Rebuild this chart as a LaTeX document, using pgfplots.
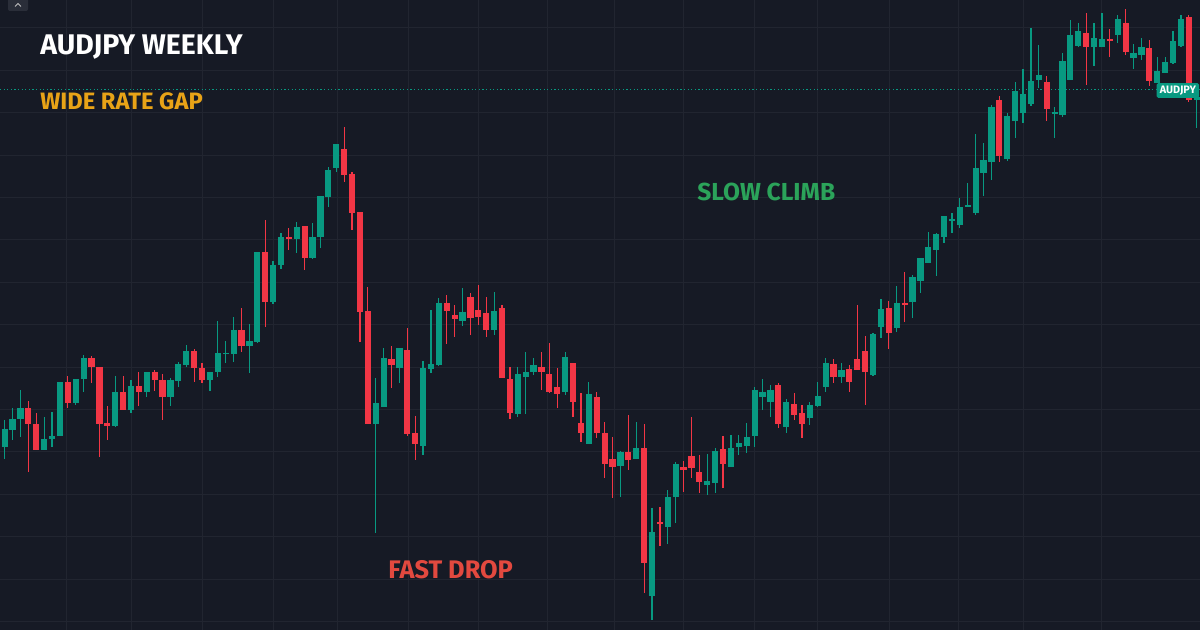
\documentclass[border=0pt]{standalone}
\usepackage{pgfplots}
\pgfplotsset{compat=1.18}
\usepackage{pgfplotstable}
\usepackage{fontspec}
\setmainfont{Fira Sans}
\definecolor{bg}{HTML}{161A25}
\definecolor{gridc}{HTML}{212530}
\definecolor{upc}{HTML}{089981}
\definecolor{dnc}{HTML}{F23645}
\definecolor{gold}{HTML}{E8A317}
\definecolor{climb}{HTML}{2BA35A}
\definecolor{drop}{HTML}{E2493F}
\definecolor{btn}{HTML}{2A2E39}
% columns: i = week index, bt/bb = body top/bottom level, wt/wb = wick top/bottom level (screen scale, 0 = top)
\pgfplotstableread{
i bt bb wt wb
1 429 447 420 459
2 419 430 408 440
3 408 419 390 437
6 439 450 417 450
7 436 439 412 447
8 382 436 382 436
10 379 403 379 405
11 358 379 355 392
15 392 426 376 427
17 386 410 380 413
19 372 392 372 397
22 380 397 378 406
23 364 381 362 387
24 351 365 345 367
27 372 380 372 391
28 353 372 321 377
29 353 354 341 363
30 330 354 317 362
32 341 346 324 373
33 252 342 252 343
35 265 302 261 304
36 237 265 233 269
38 227 239 222 253
40 237 258 223 259
41 196 237 196 248
42 170 197 167 207
43 144 168 144 172
48 403 424 378 533
49 358 407 348 407
51 348 368 348 383
54 368 446 361 455
55 364 369 310 373
56 303 365 298 366
59 312 321 288 326
63 311 330 292 335
66 374 414 367 417
67 372 377 352 414
68 365 372 358 375
72 357 392 352 395
75 394 444 382 444
79 452 466 451 497
81 448 459 422 459
83 532 596 508 620
85 497 527 490 544
86 464 497 462 523
90 481 485 454 495
91 451 483 448 493
93 448 467 435 467
94 443 447 435 455
95 437 446 423 453
96 390 436 387 447
97 392 397 379 410
98 390 402 385 417
100 402 427 399 433
103 405 418 402 425
104 396 406 382 407
105 363 387 358 392
107 370 377 363 383
111 334 375 333 376
112 309 327 299 338
114 303 328 286 332
116 277 302 275 318
117 258 281 258 293
118 247 263 232 263
119 234 250 233 276
120 216 237 216 243
121 219 221 213 233
122 207 225 198 228
123 205 207 183 207
124 168 213 134 215
125 160 173 143 196
126 107 162 105 180
128 116 159 113 161
129 91 121 82 138
130 94 113 69 123
131 81 104 28 106
132 75 80 45 88
134 112 114 107 138
135 61 115 53 117
136 35 80 20 80
137 31 46 23 47
139 38 47 23 66
140 39 47 13 47
142 19 35 15 43
144 53 58 44 69
145 47 55 38 60
147 71 83 57 83
148 62 73 57 73
149 41 63 31 64
150 19 46 15 47
152 97 100 97 128
}\upweeks
\pgfplotstableread{
i bt bb wt wb
4 408 424 401 472
5 424 450 413 450
9 382 403 376 408
12 358 367 356 383
13 367 424 367 457
14 423 426 406 440
16 392 410 376 410
18 386 392 372 406
20 372 380 370 391
21 380 397 374 420
25 351 368 349 382
26 368 380 363 383
31 330 346 308 352
34 252 302 220 327
37 237 239 228 250
39 226 258 226 270
44 149 175 127 182
45 174 213 172 230
46 212 312 212 342
47 311 424 287 424
50 359 365 346 388
52 350 434 328 436
53 433 444 416 460
57 303 311 295 344
58 315 319 305 337
60 297 318 293 335
61 310 317 285 325
62 313 330 297 337
64 308 378 305 378
65 379 413 367 419
69 367 372 352 390
70 374 392 343 393
71 387 394 368 408
73 363 402 363 417
74 423 433 393 442
76 397 433 392 438
77 433 464 422 478
78 459 467 437 498
80 452 460 415 470
82 448 563 424 593
84 522 524 507 546
87 467 470 461 492
88 456 468 417 478
89 472 482 455 493
92 449 464 436 488
99 385 424 383 428
101 404 415 393 420
102 413 424 405 438
106 364 377 359 383
108 369 382 365 392
109 359 370 305 370
110 351 372 336 405
113 308 333 301 349
115 303 305 272 322
127 100 156 96 162
133 82 109 76 121
138 33 47 13 85
141 39 41 29 57
143 23 52 9 55
146 48 81 40 86
151 17 100 15 102
}\downweeks
\newcommand{\px}[2]{({(#1)*0.5pt},{(630-(#2))*0.5pt})}
\begin{document}
\begin{tikzpicture}
\fill[bg] (0,0) rectangle (600pt,315pt);
\begin{axis}[
  at={(0,0)}, anchor=south west,
  scale only axis, width=600pt, height=315pt,
  xmin=0.4046, xmax=152.42, ymin=0, ymax=630, y dir=reverse,
  axis line style={draw=none}, tick style={draw=none},
  xticklabels={}, yticklabels={},
  xtick={8.89,17.0,26.0,35.0,43.2,52.1,61.0,69.8,78.2,87.05,96.0,104.0,113.1,121.8,130.0,140.0},
  ytick={28,70.4,112.8,155.2,197.6,240,282.4,324.8,367.2,409.6,452,494.4,536.8,579.2,621.6},
  grid=major, grid style={draw=gridc, line width=0.5pt},
  clip=true,
]
% last price line
\addplot[upc, line width=0.5pt, dash pattern=on 0.6pt off 1.2pt, forget plot] coordinates {(0.4,90) (152.5,90)};
% wicks
\addplot[draw=none, forget plot, error bars/.cd, y dir=both, y explicit, error mark=none,
  error bar style={draw=upc, solid, line width=0.6pt}]
  table[x=i, y expr={(\thisrow{wt}+\thisrow{wb})/2}, y error expr={(\thisrow{wb}-\thisrow{wt})/2}] {\upweeks};
\addplot[draw=none, forget plot, error bars/.cd, y dir=both, y explicit, error mark=none,
  error bar style={draw=dnc, solid, line width=0.6pt}]
  table[x=i, y expr={(\thisrow{wt}+\thisrow{wb})/2}, y error expr={(\thisrow{wb}-\thisrow{wt})/2}] {\downweeks};
% bodies
\addplot[draw=none, forget plot, error bars/.cd, y dir=both, y explicit, error mark=none,
  error bar style={draw=upc, solid, line width=3.1pt}]
  table[x=i, y expr={(\thisrow{bt}+\thisrow{bb})/2}, y error expr={(\thisrow{bb}-\thisrow{bt})/2}] {\upweeks};
\addplot[draw=none, forget plot, error bars/.cd, y dir=both, y explicit, error mark=none,
  error bar style={draw=dnc, solid, line width=3.1pt}]
  table[x=i, y expr={(\thisrow{bt}+\thisrow{bb})/2}, y error expr={(\thisrow{bb}-\thisrow{bt})/2}] {\downweeks};
\end{axis}
% texts
\node[anchor=base west, inner sep=0, text=white, font=\bfseries\fontsize{14.2}{16}\selectfont] at \px{40}{55} {AUDJPY WEEKLY};
\node[anchor=base west, inner sep=0, text=gold, font=\bfseries\fontsize{11.85}{14}\selectfont] at \px{40}{110} {WIDE RATE GAP};
\node[anchor=base west, inner sep=0, text=climb, font=\bfseries\fontsize{12.3}{14}\selectfont] at \px{697}{201} {SLOW CLIMB};
\node[anchor=base west, inner sep=0, text=drop, font=\bfseries\fontsize{12.7}{14}\selectfont] at \px{388}{579} {FAST DROP};
% price label
\node[anchor=east, fill=upc, text=white, inner xsep=1.6pt, inner ysep=1.4pt, rounded corners=0.8pt,
  font=\bfseries\fontsize{5.4}{6}\selectfont] at \px{1199.5}{90.5} {AUDJPY};
% small button
\fill[btn, rounded corners=1pt] \px{8}{-3} rectangle \px{28}{11};
\draw[white!75!black, line width=0.5pt] \px{15}{6.5} -- \px{18}{3.5} -- \px{21}{6.5};
\pgfresetboundingbox
\useasboundingbox (0,0) rectangle (600pt,315pt);
\end{tikzpicture}
\end{document}
